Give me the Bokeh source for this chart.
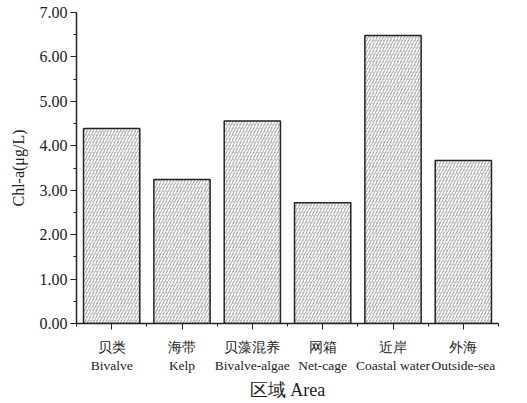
from bokeh.plotting import figure
from bokeh.models import FixedTicker, ColumnDataSource, Range1d
from bokeh.embed import file_html
from bokeh.resources import INLINE

categories_cn = ["贝类", "海带", "贝藻混养", "网箱", "近岸", "外海"]
categories_en = ["Bivalve", "Kelp", "Bivalve-algae", "Net-cage", "Coastal water", "Outside-sea"]
chl_a = [4.39, 3.24, 4.56, 2.72, 6.48, 3.67]
y_ticks = [0, 1, 2, 3, 4, 5, 6, 7]

xs = list(range(1, len(chl_a) + 1))
src = ColumnDataSource(dict(x=xs, top=chl_a))

p = figure(width=527, height=403, output_backend="svg", toolbar_location=None,
           x_range=Range1d(0.5, len(chl_a) + 0.5), y_range=Range1d(0, 7),
           min_border_left=76, min_border_right=29, min_border_top=12, min_border_bottom=80)
p.outline_line_color = None
p.grid.visible = False
p.background_fill_color = "white"

p.vbar(x="x", top="top", width=0.8, source=src, fill_color="white",
       line_color=None, hatch_pattern="dot", hatch_color="#b0b0b0", hatch_scale=3.5, hatch_weight=1)
p.vbar(x="x", top="top", width=0.8, source=src, fill_color=None,
       line_color="#222222", line_width=1.5, hatch_pattern="right_diagonal_line",
       hatch_color="#9a9a9a", hatch_scale=6, hatch_weight=0.8)

font = "Liberation Serif"
p.yaxis.ticker = FixedTicker(ticks=y_ticks, minor_ticks=[t + 0.5 for t in y_ticks[:-1]])
p.yaxis.major_label_overrides = {t: f"{t:.2f}" for t in y_ticks}
p.yaxis.axis_label = "Chl-a(μg/L)"
p.xaxis.ticker = FixedTicker(ticks=xs, minor_ticks=[x + 0.5 for x in [0] + xs])
p.xaxis.major_label_overrides = {x: f"{c}\n{e}" for x, c, e in zip(xs, categories_cn, categories_en)}
p.xaxis.axis_label = "区域 Area"

for ax in (p.xaxis, p.yaxis):
    ax.axis_line_color = "#222222"
    ax.axis_line_width = 1.5
    ax.major_tick_line_color = "#222222"
    ax.minor_tick_line_color = "#222222"
    ax.major_tick_in = 0
    ax.major_tick_out = 6
    ax.minor_tick_in = 0
    ax.minor_tick_out = 3
    ax.major_label_text_font = font
    ax.axis_label_text_font = font
    ax.axis_label_text_font_style = "normal"
    ax.major_label_text_color = "#222222"
    ax.axis_label_text_color = "#222222"

p.yaxis.major_label_text_font_size = "16px"
p.yaxis.axis_label_text_font_size = "16px"
p.yaxis.major_label_standoff = 3
p.yaxis.axis_label_standoff = 10
p.xaxis.major_label_text_font_size = "13.5px"
p.xaxis.axis_label_text_font_size = "18px"
p.xaxis.major_label_standoff = 10
p.xaxis.axis_label_standoff = 4

open("out.html", "w").write(file_html(p, INLINE))
